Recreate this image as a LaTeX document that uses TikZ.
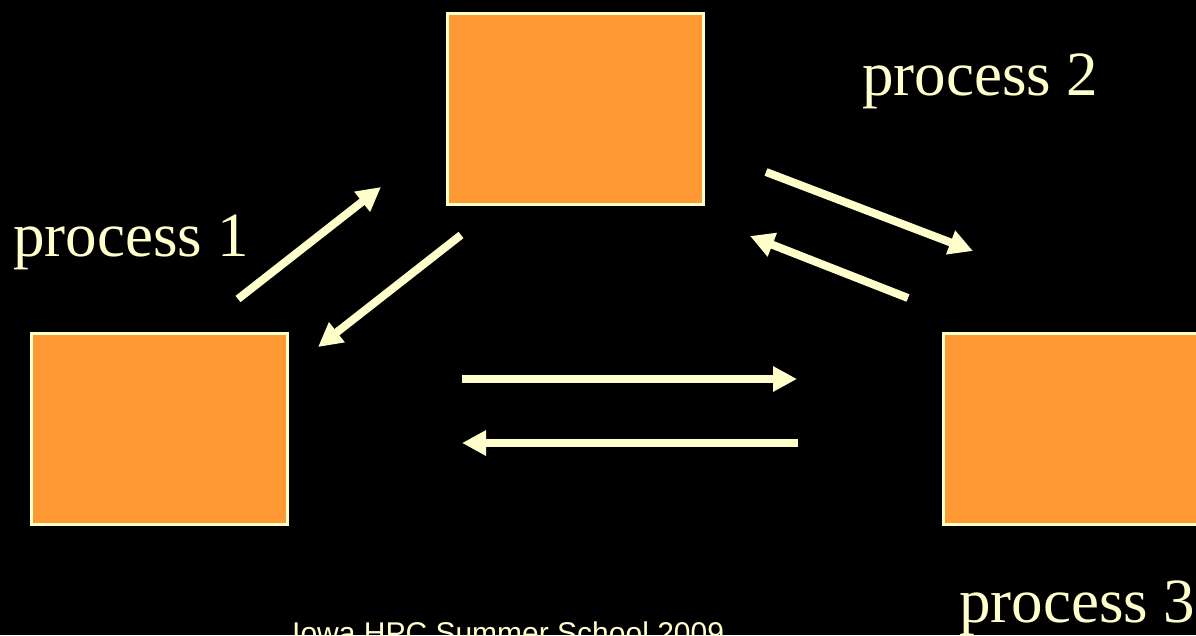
\documentclass[tikz,border=0pt]{standalone}
\usepackage{fontspec}
\setmainfont{Liberation Serif}
\newfontfamily\arialfont{Liberation Sans}
\usetikzlibrary{arrows.meta}
\definecolor{bgblack}{HTML}{000000}
\definecolor{boxorange}{HTML}{FF9933}
\definecolor{paleyellow}{HTML}{FFFFCC}
\begin{document}
\begin{tikzpicture}[x=1pt,y=-1pt,
  procbox/.style={draw=paleyellow,line width=3pt,fill=boxorange,minimum width=256pt,minimum height=191pt,inner sep=0pt,anchor=north west},
  proclabel/.style={text=paleyellow,font=\fontsize{63}{70}\selectfont,inner sep=0pt,anchor=base west},
  flow/.style={draw=paleyellow,line width=8pt,line cap=butt,-{Triangle[length=24pt,width=24pt]}}]
\fill[bgblack] (0,0) rectangle (1196,635);
\useasboundingbox (0,0) rectangle (1196,635);
\clip (0,0) rectangle (1196,635);
% boxes
\node[procbox] (top) at (445.5,11.5) {};
\node[procbox] (left) at (29.5,331.5) {};
\node[procbox] (right) at (941.5,331.5) {};
% labels
\node[proclabel] (l1) at (13,256) {process 1};
\node[proclabel] (l2) at (862,95) {process 2};
\node[proclabel] (l3) at (959,622) {process 3};
\node[text=paleyellow,font=\arialfont\fontsize{30}{36}\selectfont,inner sep=0pt,anchor=base west] (foot) at (292,643.5) {Iowa HPC Summer School 2009};
% arrow end points
\coordinate (a1s) at (238,299);
\coordinate (a1e) at (381,187);
\coordinate (a2s) at (461,235);
\coordinate (a2e) at (318,347);
\coordinate (a3s) at (766,172);
\coordinate (a3e) at (973,251);
\coordinate (a4s) at (908,298);
\coordinate (a4e) at (750,236);
\coordinate (a5s) at (462,379);
\coordinate (a5e) at (797,379);
\coordinate (a6s) at (798,443);
\coordinate (a6e) at (462,443);
\draw[flow] (a1s) -- (a1e);
\draw[flow] (a2s) -- (a2e);
\draw[flow] (a3s) -- (a3e);
\draw[flow] (a4s) -- (a4e);
\draw[flow] (a5s) -- (a5e);
\draw[flow] (a6s) -- (a6e);
\end{tikzpicture}
\end{document}
